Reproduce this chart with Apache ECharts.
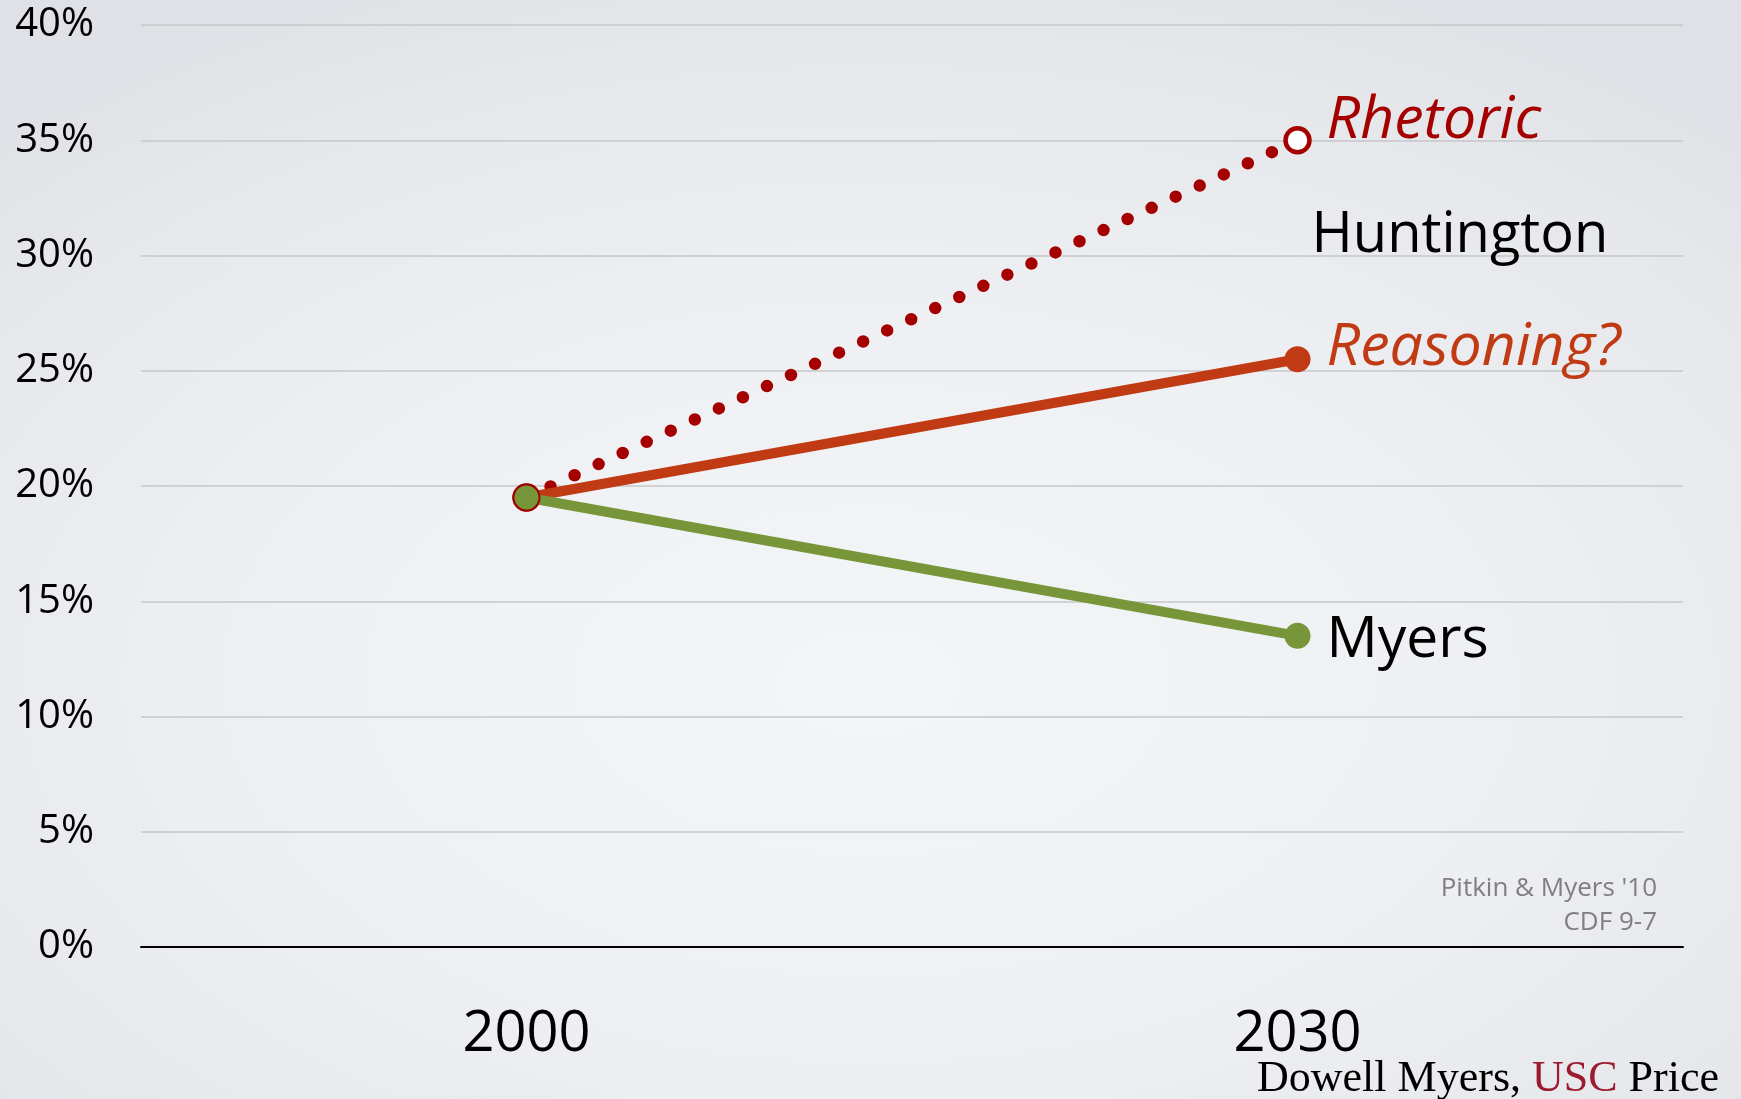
<!DOCTYPE html>
<html>
<head>
<meta charset="utf-8">
<script src="https://cdn.jsdelivr.net/npm/echarts@6/dist/echarts.min.js"></script>
<style>
html,body{margin:0;padding:0;width:1741px;height:1099px;overflow:hidden;}
body{background:radial-gradient(ellipse 75% 70% at 50% 62%, #f4f5f7 0%, #eff0f3 45%, #e6e8ec 80%, #dfe1e6 100%);}
#c{width:1741px;height:1099px;}
</style>
</head>
<body>
<div id="c"></div>
<script>
const years = ['2000', '2030'];
const rhetoric = [19.5, 35];
const reasoning = [19.5, 25.5];
const myers = [19.5, 13.5];
const yTicks = { min: 0, max: 40, interval: 5 };
const hunting = { year: '2030', value: 31 };

const FONT = "'Open Sans', sans-serif";
const chart = echarts.init(document.getElementById('c'), null, { renderer: 'canvas' });

const myersData = myers.map((v, i) => i === 0
  ? { value: v, itemStyle: { borderColor: '#A00000', borderWidth: 2 } }
  : v);

chart.setOption({
  backgroundColor: 'transparent',
  animation: false,
  grid: { left: 141, right: 58, top: 25, bottom: 152 },
  xAxis: {
    type: 'category',
    data: years,
    boundaryGap: true,
    axisLine: { lineStyle: { color: '#000', width: 2 } },
    axisTick: { show: false },
    axisLabel: { color: '#000', fontFamily: FONT, fontSize: 56, margin: 60 },
    splitLine: { show: false }
  },
  yAxis: {
    type: 'value',
    min: yTicks.min, max: yTicks.max, interval: yTicks.interval,
    axisLine: { show: false },
    axisTick: { show: false },
    axisLabel: { formatter: '{value}%', color: '#000', fontFamily: FONT, fontSize: 40, margin: 47, padding: [8, 0, 0, 0] },
    splitLine: { lineStyle: { color: '#c6c7c9', width: 1.5 } }
  },
  series: [
    {
      name: 'Rhetoric',
      type: 'line',
      data: rhetoric,
      symbol: 'circle',
      symbolSize: 24,
      itemStyle: { color: '#ffffff', borderColor: '#A50000', borderWidth: 4.5 },
      lineStyle: { color: '#A50000', width: 12.5, type: [0, 26.5], cap: 'round' },
      endLabel: {
        show: true, formatter: '{a}', color: '#A50000', fontFamily: FONT,
        fontStyle: 'italic', fontSize: 59, distance: 29, offset: [0, -19]
      },
      z: 2
    },
    {
      name: 'Reasoning?',
      type: 'line',
      data: reasoning,
      symbol: 'circle',
      symbolSize: 26,
      itemStyle: { color: '#C03A14' },
      lineStyle: { color: '#C03A14', width: 10 },
      endLabel: {
        show: true, formatter: '{a}', color: '#C03A14', fontFamily: FONT,
        fontStyle: 'italic', fontSize: 59, distance: 29, offset: [0, -11]
      },
      z: 3
    },
    {
      name: 'Myers',
      type: 'line',
      data: myersData,
      symbol: 'circle',
      symbolSize: 26,
      itemStyle: { color: '#77963A' },
      lineStyle: { color: '#77963A', width: 10 },
      endLabel: {
        show: true, formatter: '{a}', color: '#000', fontFamily: FONT,
        fontSize: 57, distance: 29, offset: [0, 5]
      },
      z: 4
    }
  ]
});

const hp = chart.convertToPixel({ gridIndex: 0 }, [hunting.year, hunting.value]);
chart.setOption({
  graphic: [
    {
      type: 'text', left: hp[0] + 14, top: hp[1] - 24, z: 10,
      style: { text: 'Huntington', fill: '#000', font: "56px 'Open Sans', sans-serif" }
    },
    {
      type: 'text', x: 1657, y: 872, z: 10,
      style: { text: "Pitkin & Myers '10\nCDF 9-7", fill: '#7f7f7f', font: "26px 'Open Sans', sans-serif",
               align: 'right', verticalAlign: 'top', lineHeight: 34 }
    },
    {
      type: 'text', x: 1719, y: 1057, z: 10,
      style: {
        text: '{a|Dowell Myers, }{b|USC}{c| Price}',
        align: 'right', verticalAlign: 'top',
        rich: {
          a: { fill: '#000', fontFamily: "'Liberation Serif', serif", fontSize: 44 },
          b: { fill: '#9B1B30', fontFamily: "'Liberation Serif', serif", fontSize: 44 },
          c: { fill: '#000', fontFamily: "'Liberation Serif', serif", fontSize: 44 }
        }
      }
    }
  ]
});
</script>
</body>
</html>
